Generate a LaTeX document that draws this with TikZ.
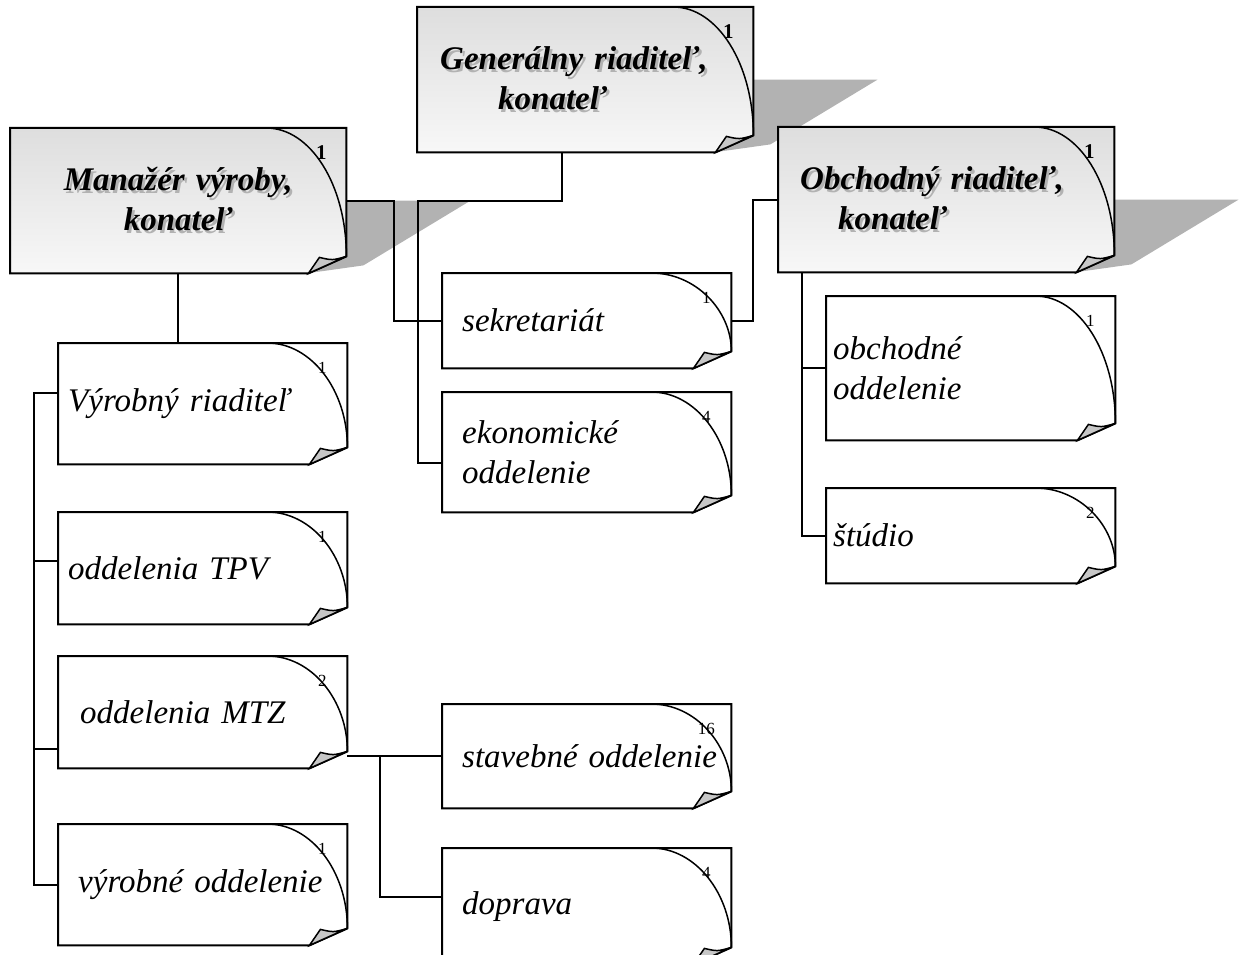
\documentclass[tikz,border=0pt]{standalone}
\usepackage{fontspec}
\setmainfont{Liberation Serif}
\usetikzlibrary{calc,backgrounds}

\tikzset{
  sheet/.style={rectangle, anchor=north west, inner xsep=0pt, inner ysep=0pt, minimum width=289pt, text width=249pt, align=left, font=\itshape\fontsize{33}{40}\selectfont},
  chief/.style={rectangle, anchor=north west, inner xsep=0pt, inner ysep=0pt, minimum width=336pt, minimum height=145pt, text width=292pt, align=left, font=\bfseries\itshape\fontsize{33}{40}\selectfont},
  plainfill/.style={fill=white},
  chieffill/.style={top color=black!13, bottom color=black!3},
  link/.style={line width=2pt},
}

% text with a grey drop shadow
\newcommand\shd[1]{\leavevmode\rlap{\kern2.5pt\raisebox{-2.5pt}{\textcolor{black!30}{#1}}}#1}
\newcommand\bignum{\fontsize{21}{21}\selectfont\bfseries 1}

% sheet with curled corner: fill style, node, number
\newcommand\curl[3]{%
  \begin{scope}[on background layer]
    \path[#1, draw=black, line width=2pt] (#2.north west) -- (#2.north east) -- ($(#2.south east)+(0,-17)$) -- ($(#2.south east)+(-38,0)$) -- (#2.south west) -- cycle;
    \draw[line width=1.5pt] ($(#2.north east)+(-80,0)$) .. controls ($(#2.north east)+(-36,0)$) and ($(#2.south east)!.61!(#2.north east)$) .. ($(#2.south east)+(0,-17)$);
    \draw[line width=1.5pt, fill=black!22] ($(#2.south east)+(-38,0)$) -- ($(#2.south east)+(-27,-16)$) .. controls ($(#2.south east)+(-14,-13)$) .. ($(#2.south east)+(0,-17)$) -- cycle;
  \end{scope}
  \node[font=\fontsize{17}{17}\selectfont] (#2num) at ($(#2.north east)+(-25,25)$) {#3};
}

% perspective shadow behind a chief sheet
\newcommand\dropshadow[1]{%
  \begin{scope}[on background layer]
    \fill[black!30] ($(#1.west)+(100,0)$) -- ($(#1.east)+(124,0)$) -- ($(#1.south east)+(17,-8)$) -- ($(#1.south east)+(-40,0)$) -- ($(#1.south west)+(100,0)$) -- cycle;
  \end{scope}
}

\begin{document}
\begin{tikzpicture}[x=1pt, y=-1pt]
    \useasboundingbox (0,0) rectangle (1244,955);

    % managers
    \node[chief, text width=290pt] (G) at (417,7) {\shd{Generálny riaditeľ,}\\\hspace*{58pt}\shd{konateľ}};
    \node[chief, text width=284pt, align=center] (M) at (10,128) {\shd{Manažér výroby,}\\\shd{konateľ}};
    \node[chief] (O) at (778,127) {\shd{Obchodný riaditeľ,}\\\hspace*{38pt}\shd{konateľ}};

    \dropshadow{G} \curl{chieffill}{G}{\bignum}
    \dropshadow{M} \curl{chieffill}{M}{\bignum}
    \dropshadow{O} \curl{chieffill}{O}{\bignum}

    % departments
    \node[sheet, minimum height=121pt, text width=269pt] (vyr) at (58,343) {Výrobný riaditeľ};
    \node[sheet, minimum height=112pt, text width=269pt] (tpv) at (58,512) {oddelenia TPV};
    \node[sheet, minimum height=112pt, text width=245pt] (mtz) at (58,656) {oddelenia MTZ};
    \node[sheet, minimum height=121pt] (vyo) at (58,824) {\mbox{výrobné oddelenie}};
    \node[sheet, minimum height=95pt] (sek) at (442,273) {sekretariát};
    \node[sheet, minimum height=120pt] (eko) at (442,392) {ekonomické\\oddelenie};
    \node[sheet, minimum height=104pt] (stav) at (442,704) {\mbox{stavebné oddelenie}};
    \node[sheet, minimum height=116pt] (dop) at (442,848) {doprava};
    \node[sheet, minimum height=144pt, text width=275pt] (obch) at (826,296) {obchodné\\oddelenie};
    \node[sheet, minimum height=95pt, text width=275pt] (stud) at (826,488) {štúdio};

    \curl{plainfill}{vyr}{1}
    \curl{plainfill}{tpv}{1}
    \curl{plainfill}{mtz}{2}
    \curl{plainfill}{vyo}{1}
    \curl{plainfill}{sek}{1}
    \curl{plainfill}{eko}{4}
    \curl{plainfill}{stav}{16}
    \curl{plainfill}{dop}{4}
    \curl{plainfill}{obch}{1}
    \curl{plainfill}{stud}{2}

    % junctions
    \coordinate (gfork) at ($(sek.west |- M.east)+(-24,0)$);
    \coordinate (mfork) at ($(stav.west -| mtz.east)+(33,0)$);

    \draw[link] ([xshift=-23pt]G.south) |- (gfork) |- ([yshift=-11pt]eko.west);
    \draw[link] (gfork) |- (sek.west);
    \draw[link] (M.east) -- ++(48,0) |- (sek.west);
    \draw[link] (O.west) -- ++(-25,0) |- (sek.east);

    \draw[link] (M.south) -- (M.south |- vyr.north);
    \draw[link] ([yshift=11pt]vyr.west) -- ++(-24,0) |- ([yshift=7pt]tpv.west);
    \draw[link] ([yshift=11pt]vyr.west) -- ++(-24,0) |- ([yshift=-37pt]mtz.west);
    \draw[link] ([yshift=11pt]vyr.west) -- ++(-24,0) |- (vyo.west);

    \draw[link] (stav.west -| mtz.east) -- (stav.west);
    \draw[link] (mfork) |- ([yshift=9pt]dop.west);

    \draw[link] ([xshift=24pt]O.south west) |- (obch.west);
    \draw[link] ([xshift=24pt]O.south west) |- (stud.west);
\end{tikzpicture}
\end{document}
